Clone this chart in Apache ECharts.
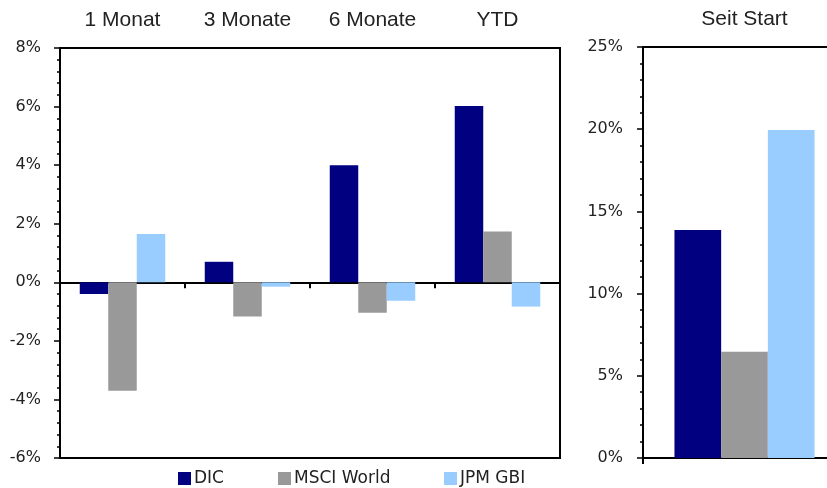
<!DOCTYPE html>
<html><head><meta charset="utf-8">
<script src="https://cdn.jsdelivr.net/npm/echarts@6/dist/echarts.min.js"></script>
<style>html,body{margin:0;padding:0;background:#fff}#c{width:827px;height:488px}</style>
</head><body><div id="c"></div>
<script>
const categories = ['1 Monat', '3 Monate', '6 Monate', 'YTD'];
const dicValues = [-0.4, 0.7, 4.0, 6.02];
const msciValues = [-3.7, -1.17, -1.04, 1.73];
const jpmValues = [1.65, -0.15, -0.63, -0.83];
const startCategory = ['Seit Start'];
const dicStart = [13.87];
const msciStart = [6.46];
const jpmStart = [19.95];
const seriesNames = ['DIC', 'MSCI World', 'JPM GBI'];
const colors = ['#000080', '#999999', '#99CCFF'];

const tickFont = {fontFamily: 'DejaVu Sans', fontSize: 16, color: '#222'};
const titleFont = {fontFamily: 'Liberation Sans', fontSize: 21, color: '#222'};
const black = '#000';

const chart = echarts.init(document.getElementById('c'), null, {renderer: 'canvas'});
function barSeries(name, data, xi, yi, color, gap) {
  return {name, type: 'bar', data, xAxisIndex: xi, yAxisIndex: yi,
    itemStyle: {color}, barGap: '0%', barCategoryGap: gap, animation: false};
}
chart.setOption({
  animation: false,
  color: colors,
  grid: [
    {left: 60, top: 48, right: 267, bottom: 30, show: true, borderColor: black, borderWidth: 2,
      backgroundColor: 'transparent', outerBoundsMode: 'none', containLabel: false},
    {left: 643, top: 47, width: 203, bottom: 30, show: true, borderColor: black, borderWidth: 2,
      backgroundColor: 'transparent', outerBoundsMode: 'none', containLabel: false}
  ],
  legend: seriesNames.map((n, i) => ({
    data: [n], left: [178, 278, 444][i], top: 470, padding: 0, itemWidth: 13, itemHeight: 13, itemGap: 0,
    icon: 'rect', textStyle: {fontFamily: 'DejaVu Sans', fontSize: 17, color: '#222', padding: [0, 0, 0, -2]},
    selectedMode: false
  })),
  xAxis: [
    {type: 'category', gridIndex: 0, data: categories, position: 'bottom',
      axisLine: {onZero: true, lineStyle: {color: black, width: 2}},
      axisTick: {show: true, length: 6, lineStyle: {color: black, width: 2}},
      axisLabel: {show: false}},
    {type: 'category', gridIndex: 0, data: categories, position: 'top',
      axisLine: {onZero: false, lineStyle: {color: black, width: 2}},
      axisTick: {show: false},
      axisLabel: Object.assign({margin: 17}, titleFont)},
    {type: 'category', gridIndex: 1, data: startCategory, position: 'bottom',
      axisLine: {onZero: true, lineStyle: {color: black, width: 2}},
      axisTick: {show: true, length: 6, lineStyle: {color: black, width: 2}},
      axisLabel: {show: false}},
    {type: 'category', gridIndex: 1, data: startCategory, position: 'top',
      axisLine: {onZero: false, lineStyle: {color: black, width: 2}},
      axisTick: {show: false},
      axisLabel: Object.assign({margin: 17}, titleFont)}
  ],
  yAxis: [
    {type: 'value', gridIndex: 0, min: -6, max: 8, interval: 2,
      axisLine: {show: true, lineStyle: {color: black, width: 2}},
      axisTick: {show: true, length: 6, lineStyle: {color: black, width: 1.5}},
      minorTick: {show: true, splitNumber: 5, length: 3, lineStyle: {color: black, width: 1.5}},
      splitLine: {show: false},
      axisLabel: Object.assign({margin: 19, formatter: '{value}%'}, tickFont)},
    {type: 'value', gridIndex: 1, min: 0, max: 25, interval: 5,
      axisLine: {show: true, lineStyle: {color: black, width: 2}},
      axisTick: {show: true, length: 6, lineStyle: {color: black, width: 1.5}},
      minorTick: {show: true, splitNumber: 5, length: 3, lineStyle: {color: black, width: 1.5}},
      splitLine: {show: false},
      axisLabel: Object.assign({margin: 20, formatter: '{value}%'}, tickFont)}
  ],
  series: [
    barSeries('DIC', dicValues, 0, 0, colors[0], '31.6%'),
    barSeries('MSCI World', msciValues, 0, 0, colors[1], '31.6%'),
    barSeries('JPM GBI', jpmValues, 0, 0, colors[2], '31.6%'),
    barSeries('DIC', dicStart, 2, 1, colors[0], '31%'),
    barSeries('MSCI World', msciStart, 2, 1, colors[1], '31%'),
    barSeries('JPM GBI', jpmStart, 2, 1, colors[2], '31%')
  ]
});
</script></body></html>
